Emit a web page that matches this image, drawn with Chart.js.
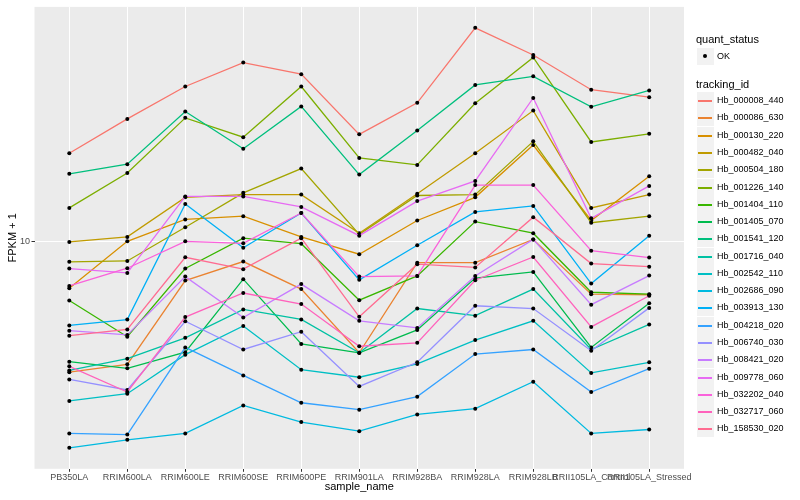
<!DOCTYPE html>
<html>
<head>
<meta charset="utf-8">
<title>FPKM + 1 by sample</title>
<script src="https://cdn.jsdelivr.net/npm/chart.js@4.4.0/dist/chart.umd.min.js"></script>
<style>
  html, body { margin: 0; padding: 0; background: #fff; }
  #wrap { position: relative; width: 800px; height: 500px; font-family: "Liberation Sans", Arial, sans-serif; }
  #chart { position: absolute; left: 0; top: 0; }
  .lg-title { position: absolute; left: 696px; font-size: 11px; color: #000; line-height: 13px; }
  .lg-key { position: absolute; left: 697px; width: 17px; height: 17px; background: #F2F2F2; }
  .lg-line { position: absolute; left: 1px; right: 2px; top: 8px; height: 1.5px; }
  .lg-dot { position: absolute; left: 6px; top: 6px; width: 4px; height: 4px; border-radius: 50%; background: #000; }
  .lg-text { position: absolute; left: 717px; font-size: 9px; color: #000; line-height: 11px; white-space: nowrap; }
</style>
</head>
<body>
<div id="wrap">
  <canvas id="chart" width="800" height="500"></canvas>
  <div id="legend"></div>
</div>
<script>
// categories (x axis)
const samples = ['PB350LA', 'RRIM600LA', 'RRIM600LE', 'RRIM600SE', 'RRIM600PE', 'RRIM901LA',
                 'RRIM928BA', 'RRIM928LA', 'RRIM928LB', 'RRII105LA_Control', 'RRII105LA_Stressed'];

const yTicks = [10];

const trackingIds = ['Hb_000008_440', 'Hb_000086_630', 'Hb_000130_220', 'Hb_000482_040', 'Hb_000504_180',
                     'Hb_001226_140', 'Hb_001404_110', 'Hb_001405_070', 'Hb_001541_120', 'Hb_001716_040',
                     'Hb_002542_110', 'Hb_002686_090', 'Hb_003913_130', 'Hb_004218_020', 'Hb_006740_030',
                     'Hb_008421_020', 'Hb_009778_060', 'Hb_032202_040', 'Hb_032717_060', 'Hb_158530_020'];

const lineColors = ['#F8766D', '#EA8331', '#D89000', '#C09B00', '#A3A500', '#7CAE00', '#39B600', '#00BB4E',
                    '#00BF7D', '#00C1A3', '#00BFC4', '#00BAE0', '#00B0F6', '#35A2FF', '#9590FF', '#C77CFF',
                    '#E76BF3', '#FA62DB', '#FF62BC', '#FF6C91'];

// FPKM + 1, one value per sample
const hb000008_440 = [19.8, 25.8, 33.1, 39.8, 36.4, 22.9, 29.2, 52.0, 42.2, 32.3, 30.5];
const hb000086_630 = [3.67, 3.90, 7.43, 8.60, 6.96, 4.26, 8.53, 8.53, 10.2, 6.69, 6.66];
const hb000130_220 = [7.00, 10.05, 11.9, 12.2, 10.4, 9.10, 11.8, 14.1, 21.1, 11.8, 16.6];
const hb000482_040 = [10.0, 10.4, 14.1, 14.4, 14.4, 10.7, 14.5, 19.8, 27.5, 13.0, 14.4];
const hb000504_180 = [8.58, 8.64, 11.2, 14.6, 17.6, 10.6, 14.3, 14.4, 21.7, 11.6, 12.2];
const hb001226_140 = [13.0, 17.0, 26.0, 22.4, 33.1, 19.1, 18.1, 29.1, 41.4, 21.6, 23.0];
const hb001404_110 = [6.37, 4.82, 8.15, 10.3, 9.87, 6.39, 7.70, 11.7, 10.7, 6.79, 6.69];
const hb001405_070 = [3.98, 3.78, 4.28, 7.51, 4.56, 4.26, 5.08, 7.57, 7.94, 4.44, 6.24];
const hb001541_120 = [16.9, 18.2, 27.3, 20.5, 28.4, 16.8, 23.6, 33.5, 35.8, 28.3, 32.1];
const hb001716_040 = [3.72, 4.07, 4.78, 5.95, 5.51, 4.26, 5.99, 5.67, 6.96, 4.37, 5.30];
const hb002542_110 = [2.94, 3.11, 4.20, 5.24, 3.74, 3.53, 3.91, 4.70, 5.45, 3.65, 3.96];
const hb002686_090 = [2.05, 2.18, 2.29, 2.84, 2.50, 2.33, 2.65, 2.77, 3.41, 2.29, 2.36];
const hb003913_130 = [5.26, 5.50, 13.4, 9.57, 12.5, 7.47, 9.75, 12.6, 13.2, 7.26, 10.5];
const hb004218_020 = [2.29, 2.27, 4.44, 3.58, 2.90, 2.75, 3.04, 4.22, 4.37, 3.15, 3.77];
const hb006740_030 = [3.47, 3.20, 5.43, 4.37, 5.01, 3.29, 3.96, 6.12, 5.99, 4.33, 6.02];
const hb008421_020 = [5.05, 4.89, 7.66, 5.59, 7.23, 5.45, 5.16, 7.70, 10.2, 6.17, 7.72];
const hb009778_060 = [8.15, 7.88, 14.2, 14.2, 13.1, 10.5, 13.7, 16.0, 30.3, 12.0, 15.4];
const hb032202_040 = [7.13, 8.17, 10.05, 9.90, 12.5, 7.66, 7.70, 15.5, 15.5, 9.35, 8.87];
const hb032717_060 = [3.84, 3.15, 5.61, 6.75, 6.20, 4.48, 4.60, 7.45, 8.91, 5.20, 6.61];
const hb158530_020 = [4.86, 5.10, 8.89, 8.11, 10.3, 5.62, 8.43, 8.22, 12.1, 8.47, 8.27];

const seriesValues = [hb000008_440, hb000086_630, hb000130_220, hb000482_040, hb000504_180,
                      hb001226_140, hb001404_110, hb001405_070, hb001541_120, hb001716_040,
                      hb002542_110, hb002686_090, hb003913_130, hb004218_020, hb006740_030,
                      hb008421_020, hb009778_060, hb032202_040, hb032717_060, hb158530_020];

Chart.defaults.font.family = '"Liberation Sans", Arial, sans-serif';

// grey ggplot-like panel behind the grid
const panelBg = {
    id: 'panelBg',
    beforeDraw(chart) {
        const { ctx, chartArea: a } = chart;
        ctx.save();
        ctx.fillStyle = '#EBEBEB';
        ctx.fillRect(a.left, a.top, a.right - a.left, a.bottom - a.top);
        ctx.restore();
    }
};

const datasets = trackingIds.map((id, k) => ({
    label: id,
    data: seriesValues[k].map((v, i) => ({ x: i, y: v })),
    borderColor: lineColors[k],
    backgroundColor: lineColors[k],
    borderWidth: 1.3,
    pointRadius: 2,
    pointBackgroundColor: '#000',
    pointBorderWidth: 0,
    pointHoverRadius: 2,
    tension: 0,
    fill: false,
    order: trackingIds.length - k
}));

new Chart(document.getElementById('chart'), {
    type: 'line',
    data: { datasets },
    plugins: [panelBg],
    options: {
        responsive: false,
        animation: false,
        layout: { padding: { left: 0, top: 5.2, right: 116, bottom: 0 } },
        plugins: {
            legend: { display: false },
            tooltip: { enabled: false }
        },
        scales: {
            x: {
                type: 'linear',
                min: -0.6,
                max: 10.6,
                afterBuildTicks: s => { s.ticks = samples.map((_, i) => ({ value: i })); },
                afterFit: s => { s.height = 31.2; },
                ticks: {
                    callback: v => samples[v],
                    autoSkip: false,
                    maxRotation: 0,
                    minRotation: 0,
                    color: '#4D4D4D',
                    font: { size: 9 },
                    padding: 0
                },
                grid: { color: '#FFFFFF', lineWidth: 1, tickColor: '#333333', tickLength: 3 },
                border: { display: false },
                title: { display: true, text: 'sample_name', color: '#000', font: { size: 11 }, padding: { top: 0, bottom: 6 } }
            },
            y: {
                type: 'logarithmic',
                min: 1.744,
                max: 61.1,
                afterBuildTicks: s => { s.ticks = yTicks.map(v => ({ value: v })); },
                afterFit: s => { s.width = 34.5; },
                ticks: {
                    callback: v => String(v),
                    color: '#4D4D4D',
                    font: { size: 9 },
                    padding: 1.5
                },
                grid: { color: '#FFFFFF', lineWidth: 1, tickColor: '#333333', tickLength: 3 },
                border: { display: false },
                title: { display: true, text: 'FPKM + 1', color: '#000', font: { size: 11 }, padding: { top: 6, bottom: 0 } }
            }
        }
    }
});

// ggplot style legend on the right
const legend = document.getElementById('legend');
let html = '<div class="lg-title" style="top:33px">quant_status</div>';
html += '<div class="lg-key" style="top:48px"><div class="lg-dot"></div></div>';
html += '<div class="lg-text" style="top:51px">OK</div>';
html += '<div class="lg-title" style="top:78px">tracking_id</div>';
trackingIds.forEach((id, k) => {
    const top = Math.round(100.7 + 17.27 * k - 8.5);
    html += `<div class="lg-key" style="top:${top}px"><div class="lg-line" style="background:${lineColors[k]}"></div></div>`;
    html += `<div class="lg-text" style="top:${top + 3}px">${id}</div>`;
});
legend.innerHTML = html;
</script>
</body>
</html>
